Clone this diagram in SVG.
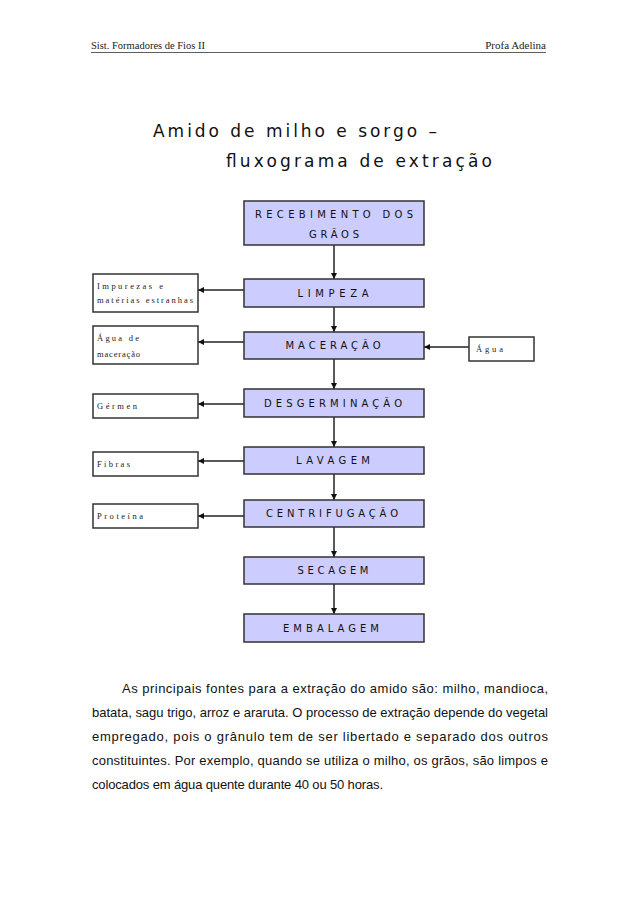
<svg xmlns="http://www.w3.org/2000/svg" width="638" height="903" viewBox="0 0 638 903">
<style>
.hdr{font-family:"Liberation Serif",serif;font-size:11px;fill:#222}
.title{font-family:"DejaVu Sans","Liberation Sans",sans-serif;font-size:17px;fill:#111}
.main{fill:#ccccff;stroke:#333;stroke-width:1.5}
.side{fill:#fff;stroke:#333;stroke-width:1.5}
.lbl{font-family:"DejaVu Sans","Liberation Sans",sans-serif;font-size:10px;fill:#111;text-anchor:middle}
.slbl{font-family:"Liberation Serif",serif;font-size:8.5px;fill:#222}
.para{font-family:"Liberation Sans",Arial,sans-serif;font-size:13px;fill:#111}
.conn{stroke:#222;stroke-width:1.5;fill:none;marker-end:url(#ah)}
</style>
<defs>
<marker id="ah" viewBox="0 0 10 10" refX="10" refY="5" markerWidth="6" markerHeight="6" orient="auto" markerUnits="userSpaceOnUse"><path d="M0,0 L10,5 L0,10 z" fill="#111"/></marker>
</defs>
<rect width="638" height="903" fill="#fff"/>
<g id="header">
<text class="hdr" x="91" y="49" textLength="114" lengthAdjust="spacingAndGlyphs">Sist. Formadores de Fios II</text>
<text class="hdr" x="546" y="49" text-anchor="end">Profa Adelina</text>
<line x1="91" y1="52.5" x2="546" y2="52.5" stroke="#333" stroke-width="0.8"/>
</g>
<g id="title">
<text class="title" x="153" y="137" textLength="284" lengthAdjust="spacing">Amido de milho e sorgo –</text>
<text class="title" x="226" y="167" textLength="266" lengthAdjust="spacing">fluxograma de extração</text>
</g>
<g id="connectors">
<line class="conn" x1="334" y1="245" x2="334" y2="279"/>
<line class="conn" x1="334" y1="307" x2="334" y2="332"/>
<line class="conn" x1="334" y1="359" x2="334" y2="389"/>
<line class="conn" x1="334" y1="417" x2="334" y2="447"/>
<line class="conn" x1="334" y1="474" x2="334" y2="500"/>
<line class="conn" x1="334" y1="527" x2="334" y2="557"/>
<line class="conn" x1="334" y1="584" x2="334" y2="614"/>
<line class="conn" x1="244" y1="290" x2="198" y2="290"/>
<line class="conn" x1="244" y1="342" x2="198" y2="342"/>
<line class="conn" x1="244" y1="404" x2="198" y2="404"/>
<line class="conn" x1="244" y1="461" x2="198" y2="461"/>
<line class="conn" x1="244" y1="516" x2="198" y2="516"/>
<line class="conn" x1="469" y1="347" x2="424" y2="347"/>
</g>
<g id="recebimento">
<rect class="main" x="244" y="201" width="180" height="44"/>
<text class="lbl" x="334" y="218" textLength="158" lengthAdjust="spacing">RECEBIMENTO DOS</text>
<text class="lbl" x="334" y="238" textLength="50" lengthAdjust="spacing">GRÃOS</text>
</g>
<g id="limpeza">
<rect class="main" x="244" y="279" width="180" height="28"/>
<text class="lbl" x="333" y="297" textLength="71" lengthAdjust="spacing">LIMPEZA</text>
</g>
<g id="maceracao">
<rect class="main" x="244" y="332" width="180" height="27"/>
<text class="lbl" x="333" y="349" textLength="95" lengthAdjust="spacing">MACERAÇÃO</text>
</g>
<g id="desgerminacao">
<rect class="main" x="244" y="389" width="180" height="28"/>
<text class="lbl" x="333" y="407" textLength="138" lengthAdjust="spacing">DESGERMINAÇÃO</text>
</g>
<g id="lavagem">
<rect class="main" x="244" y="447" width="180" height="27"/>
<text class="lbl" x="333" y="464" textLength="74" lengthAdjust="spacing">LAVAGEM</text>
</g>
<g id="centrifugacao">
<rect class="main" x="244" y="500" width="180" height="27"/>
<text class="lbl" x="332" y="517" textLength="132" lengthAdjust="spacing">CENTRIFUGAÇÃO</text>
</g>
<g id="secagem">
<rect class="main" x="244" y="557" width="180" height="27"/>
<text class="lbl" x="333" y="574" textLength="71" lengthAdjust="spacing">SECAGEM</text>
</g>
<g id="embalagem">
<rect class="main" x="244" y="614" width="180" height="28"/>
<text class="lbl" x="331" y="632" textLength="96" lengthAdjust="spacing">EMBALAGEM</text>
</g>
<g id="impurezas">
<rect class="side" x="93" y="274" width="105" height="38"/>
<text class="slbl" x="97" y="289" textLength="66" lengthAdjust="spacing">Impurezas e</text>
<text class="slbl" x="97" y="303" textLength="96" lengthAdjust="spacing">matérias estranhas</text>
</g>
<g id="agua-maceracao">
<rect class="side" x="93" y="326" width="105" height="38"/>
<text class="slbl" x="97" y="341" textLength="42" lengthAdjust="spacing">Água  de</text>
<text class="slbl" x="97" y="357" textLength="43" lengthAdjust="spacing">maceração</text>
</g>
<g id="germen">
<rect class="side" x="93" y="394" width="105" height="24"/>
<text class="slbl" x="97" y="409" textLength="40" lengthAdjust="spacing">Gérmen</text>
</g>
<g id="fibras">
<rect class="side" x="93" y="452" width="105" height="24"/>
<text class="slbl" x="97" y="467" textLength="33" lengthAdjust="spacing">Fibras</text>
</g>
<g id="proteina">
<rect class="side" x="93" y="504" width="105" height="24"/>
<text class="slbl" x="97" y="519" textLength="46" lengthAdjust="spacing">Proteína</text>
</g>
<g id="agua">
<rect class="side" x="469" y="337" width="65" height="24"/>
<text class="slbl" x="476" y="352" textLength="27" lengthAdjust="spacing">Água</text>
</g>
<g id="paragraph">
<text class="para" x="122" y="693" textLength="426" lengthAdjust="spacing">As principais fontes para a extração do amido são: milho, mandioca,</text>
<text class="para" x="92" y="717" textLength="456" lengthAdjust="spacing">batata, sagu trigo, arroz e araruta. O processo de extração depende do vegetal</text>
<text class="para" x="92" y="741" textLength="456" lengthAdjust="spacing">empregado, pois o grânulo tem de ser libertado e separado dos outros</text>
<text class="para" x="92" y="765" textLength="456" lengthAdjust="spacing">constituintes. Por exemplo, quando se utiliza o milho, os grãos, são limpos e</text>
<text class="para" x="92" y="789" textLength="291" lengthAdjust="spacing">colocados em água quente durante 40 ou 50 horas.</text>
</g>
</svg>
